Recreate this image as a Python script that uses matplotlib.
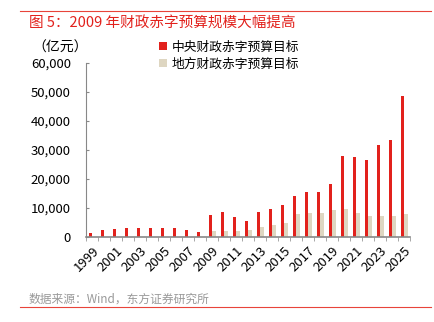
import numpy as np
import matplotlib.pyplot as plt
from matplotlib.lines import Line2D

plt.rcParams['font.family'] = ['Noto Sans CJK SC', 'DejaVu Sans']

# --- Data (亿元) ---
years = list(range(1999, 2026))
central = [1503, 2299, 2598, 3098, 3198, 3198, 3000, 2950, 2450, 1800,
           7500, 8500, 7000, 5500, 8500, 9500, 11200, 14000, 15500, 15500,
           18300, 27800, 27500, 26500, 31600, 33400, 48600]
local = [0, 0, 0, 0, 0, 0, 0, 0, 0, 0,
         2000, 2000, 2000, 2500, 3500, 4000, 5000, 7800, 8300, 8300,
         9300, 9800, 8200, 7200, 7200, 7200, 8000]

red = '#E2211C'
beige = '#DED6C1'

fig = plt.figure(figsize=(4.35, 3.22), dpi=100)
ax = fig.add_axes([0.198, 0.264, 0.745, 0.540])

x = np.arange(len(years))
w = 0.3
ax.bar(x - w / 2 + 0.02, central, width=w, color=red, label='中央财政赤字预算目标')
ax.bar(x + w / 2 + 0.02, local, width=w, color=beige, label='地方财政赤字预算目标')

ax.set_xlim(-0.5, len(years) - 0.5)
ax.set_ylim(0, 60000)
ax.set_yticks(range(0, 60001, 10000))
ax.set_yticklabels([f'{v:,}' for v in range(0, 60001, 10000)], fontsize=9.5)
ax.tick_params(axis='y', direction='in', length=2, color='#888888', pad=11)

# ticks between categories, labels every other year
ax.set_xticks(x[::2])
ax.set_xticklabels([str(y) for y in years[::2]], rotation=45, ha='right',
                   rotation_mode='anchor', fontsize=9.5)
ax.tick_params(axis='x', length=0, pad=5)
ax.set_xticks(np.arange(-0.5, len(years), 1), minor=True)
ax.tick_params(axis='x', which='minor', direction='out', length=3, color='#999999')

for s in ['top', 'right']:
    ax.spines[s].set_visible(False)
ax.spines['left'].set_color('#888888')
ax.spines['bottom'].set_color('#888888')
ax.spines['bottom'].set_linewidth(1.2)

leg = ax.legend(loc='upper left', bbox_to_anchor=(0.21, 1.16), frameon=False,
                fontsize=9.2, handlelength=0.6, handleheight=0.6,
                handletextpad=0.4, labelspacing=0.35, borderaxespad=0)

fig.text(0.074, 1 - 48 / 322, '（亿元）', fontsize=10, va='center', ha='left')

# header / footer
fig.add_artist(Line2D([0.046, 0.99], [1 - 11 / 322] * 2, color='#E8443A', lw=0.8))
fig.text(0.066, 1 - 24 / 322, '图 5：2009 年财政赤字预算规模大幅提高',
         color='#E2211C', fontsize=10.5, fontweight='medium', va='center')
fig.text(0.066, 1 - 299 / 322, '数据来源：Wind，东方证券研究所',
         color='#999999', fontsize=8.5, va='center')
fig.add_artist(Line2D([0.046, 0.99], [1 - 307 / 322] * 2, color='#E8443A', lw=0.8))

fig.savefig('out.png', dpi=100)
